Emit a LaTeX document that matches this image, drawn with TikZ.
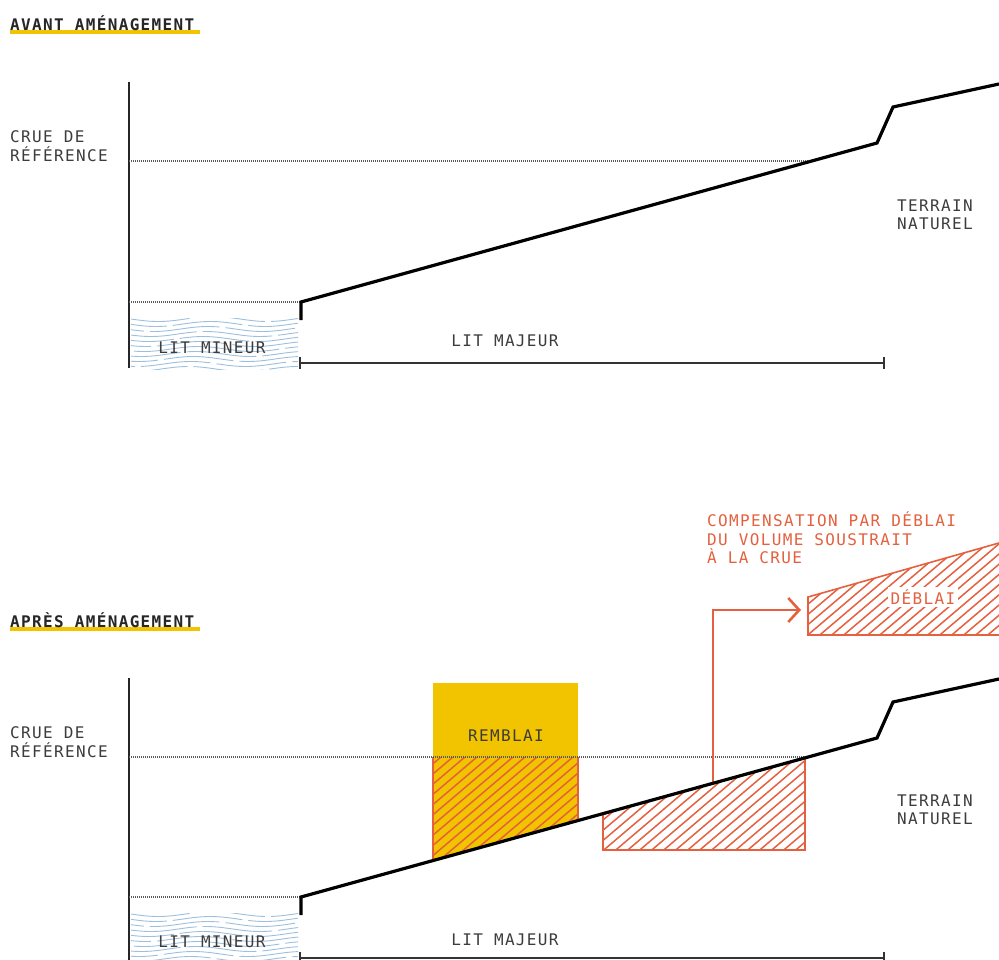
\documentclass[tikz,border=0pt]{standalone}
\usepackage{fontspec}
\usetikzlibrary{arrows.meta}
\newfontfamily\lblfam[LetterSpace=8.5]{DejaVu Sans Mono}
\newcommand\lblfont{\lblfam\fontsize{16}{18.5}\selectfont}
\newcommand\ttlfont{\lblfam\bfseries\fontsize{16}{18.5}\selectfont}
\definecolor{txt}{HTML}{3C3C3C}
\definecolor{ylw}{HTML}{F2C400}
\definecolor{org}{HTML}{E4603E}
\definecolor{wat}{HTML}{9DBEDC}
\definecolor{dotc}{HTML}{5A5A5A}
\tikzset{
 lab/.style={font=\lblfont, text=txt, inner sep=0pt, align=left},
 ttl/.style={font=\ttlfont, text=black!85, inner sep=0pt},
 axisline/.style={line width=2pt, black!85},
 refline/.style={line width=1.3pt, dotc, dash pattern=on 1pt off 1pt},
 terrain/.style={line width=3.2pt, black, line join=miter},
 bedline/.style={line width=1.8pt, black!80},
 hatch/.style={line width=1.5pt, org},
 wave/.style={line width=0.9pt, wat},
 orgedge/.style={line width=1.6pt, org},
 flow/.style={line width=2.6pt, org, -{Straight Barb[length=11pt,width=24pt]}},
}
\begin{document}
\begin{tikzpicture}[x=1pt,y=-1pt]
\useasboundingbox (0,0) rectangle (999,960);
% ================= AVANT =================
\fill[ylw] (10,30) rectangle (200,34);
\node[ttl, anchor=base west] (t1) at (10,31) {AVANT AMÉNAGEMENT};
\draw[axisline] (129,82) -- (129,368);
\coordinate (c1a) at (129,161);
\coordinate (c1b) at (808,161);
\draw[refline] (c1a) -- (c1b);
\node[lab, anchor=west] (crue1) at (10,146) {CRUE DE\\RÉFÉRENCE};
\coordinate (w1a) at (129,302);
\coordinate (w1b) at (300,302);
\draw[refline] (w1a) -- (w1b);
\begin{scope}
\clip (131,318) rectangle (298,369);
\foreach \i in {0,...,10}
  \draw[wave, dash pattern=on 70pt off 6pt, dash phase=\i*23pt]
    plot[domain=120:310,samples=60] (\x,{319+5*\i+2.5*sin((\x-131)*3.3+\i*8)});
\end{scope}
\node[lab] (lm1) at (212,348) {LIT MINEUR};
\draw[terrain] (301,320) -- (301,302) -- (877,143) -- (893,107) -- (999,84);
\coordinate (b1a) at (300,363);
\coordinate (b1b) at (884,363);
\draw[bedline] (300,357) -- (300,369) (b1a) -- (b1b) (884,357) -- (884,369);
\node[lab] (lmaj1) at (505,341) {LIT MAJEUR};
\node[lab, anchor=west] (tn1) at (897,215) {TERRAIN\\NATUREL};
% ================= APRES =================
\fill[ylw] (10,627) rectangle (200,631);
\node[ttl, anchor=base west] (t2) at (10,627) {APRÈS AMÉNAGEMENT};
\draw[axisline] (129,678) -- (129,962);
% remblai
\fill[ylw] (433,683) rectangle (578,757);
\fill[ylw] (433,757) -- (578,757) -- (578,820.5) -- (433,860.6) -- cycle;
\begin{scope}
\clip (433,757) -- (578,757) -- (578,820.5) -- (433,860.6) -- cycle;
\foreach \k in {200,212,...,620} \draw[hatch] (\k,870) -- ++(200,-170);
\end{scope}
\draw[orgedge] (433,757) -- (433,860.6) (578,757) -- (578,820.5);
\node[lab] (remb) at (506,736) {REMBLAI};
% orange excavation under crue
\begin{scope}
\clip (603,813.6) -- (805,757.9) -- (805,850) -- (603,850) -- cycle;
\foreach \k in {400,412,...,840} \draw[hatch] (\k,860) -- ++(200,-170);
\end{scope}
\draw[orgedge] (603,813.6) -- (603,850) -- (805,850) -- (805,757.9);
\coordinate (c2a) at (129,757);
\coordinate (c2b) at (808,757);
\draw[refline] (c2a) -- (c2b);
\node[lab, anchor=west] (crue2) at (10,742) {CRUE DE\\RÉFÉRENCE};
\coordinate (w2a) at (129,897);
\coordinate (w2b) at (300,897);
\draw[refline] (w2a) -- (w2b);
\begin{scope}
\clip (131,913) rectangle (298,964);
\foreach \i in {0,...,10}
  \draw[wave, dash pattern=on 70pt off 6pt, dash phase=\i*23pt]
    plot[domain=120:310,samples=60] (\x,{914+5*\i+2.5*sin((\x-131)*3.3+\i*8)});
\end{scope}
\node[lab] (lm2) at (212,942) {LIT MINEUR};
% deblai
\begin{scope}
\clip (808,597) -- (999,543) -- (999,635) -- (808,635) -- cycle;
\foreach \k in {640,652,...,1010} \draw[hatch] (\k,645) -- ++(200,-170);
\end{scope}
\draw[orgedge] (999,543) -- (808,597) -- (808,635) -- (999,635);
\node[font=\lblfont, text=org, fill=white, inner sep=2.5pt] (deb) at (923,597) {DÉBLAI};
\node[font=\lblfont, text=org, inner sep=0pt, align=left, anchor=west] (comp) at (707,538) {COMPENSATION PAR DÉBLAI\\DU VOLUME SOUSTRAIT\\À LA CRUE};
% arrow
\coordinate (arrs) at (713,783.3);
\coordinate (arrt) at (801,610);
\draw[flow] (arrs) |- (arrt);
% terrain
\draw[terrain] (301,915) -- (301,897) -- (877,738) -- (893,702) -- (999,679);
\coordinate (b2a) at (300,958);
\coordinate (b2b) at (884,958);
\draw[bedline] (300,952) -- (300,964) (b2a) -- (b2b) (884,952) -- (884,964);
\node[lab] (lmaj2) at (505,940) {LIT MAJEUR};
\node[lab, anchor=west] (tn2) at (897,810) {TERRAIN\\NATUREL};
\end{tikzpicture}
\end{document}
